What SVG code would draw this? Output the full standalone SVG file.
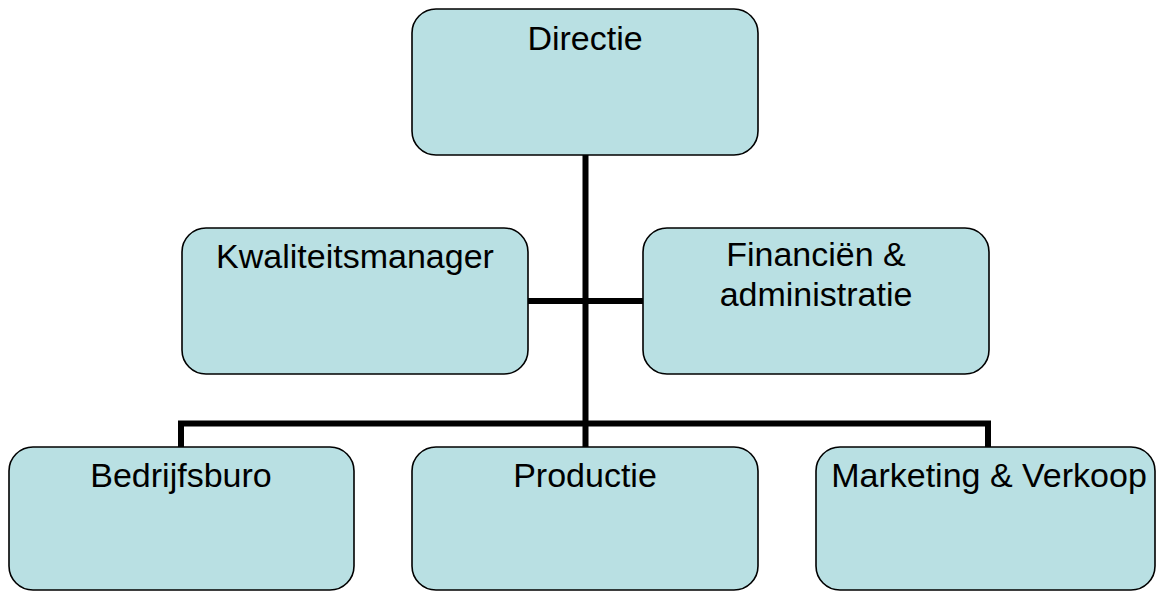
<svg xmlns="http://www.w3.org/2000/svg" width="1157" height="592" viewBox="0 0 1157 592">
  <style>
    .box { fill: #b9e0e3; stroke: #000; stroke-width: 1.6; }
    .label { font-family: "Liberation Sans", Arial, sans-serif; font-size: 34px; fill: #000; text-anchor: middle; }
    .link { fill: none; stroke: #000; stroke-width: 6; stroke-linecap: butt; stroke-linejoin: miter; }
  </style>

  <!-- connectors -->
  <g id="connectors">
    <path class="link" d="M585.5 155 V447"/>
    <path class="link" d="M528 301 H643"/>
    <path class="link" d="M181 447 V423.5 H988 V447"/>
  </g>

  <g id="directie">
    <rect class="box" x="412" y="9" width="346" height="146" rx="24" ry="24"/>
    <text class="label" x="585" y="50">Directie</text>
  </g>

  <g id="kwaliteitsmanager">
    <rect class="box" x="182" y="228" width="346" height="146" rx="24" ry="24"/>
    <text class="label" x="355" y="268">Kwaliteitsmanager</text>
  </g>

  <g id="financien">
    <rect class="box" x="643" y="228" width="346" height="146" rx="24" ry="24"/>
    <text class="label" x="816" y="266">Financiën &amp;</text>
    <text class="label" x="816" y="306">administratie</text>
  </g>

  <g id="bedrijfsburo">
    <rect class="box" x="9" y="447" width="345" height="143" rx="24" ry="24"/>
    <text class="label" x="181" y="487">Bedrijfsburo</text>
  </g>

  <g id="productie">
    <rect class="box" x="412" y="447" width="346" height="143" rx="24" ry="24"/>
    <text class="label" x="585" y="487">Productie</text>
  </g>

  <g id="marketing">
    <rect class="box" x="816" y="447" width="339" height="143" rx="24" ry="24"/>
    <text class="label" x="989" y="487">Marketing &amp; Verkoop</text>
  </g>
</svg>
